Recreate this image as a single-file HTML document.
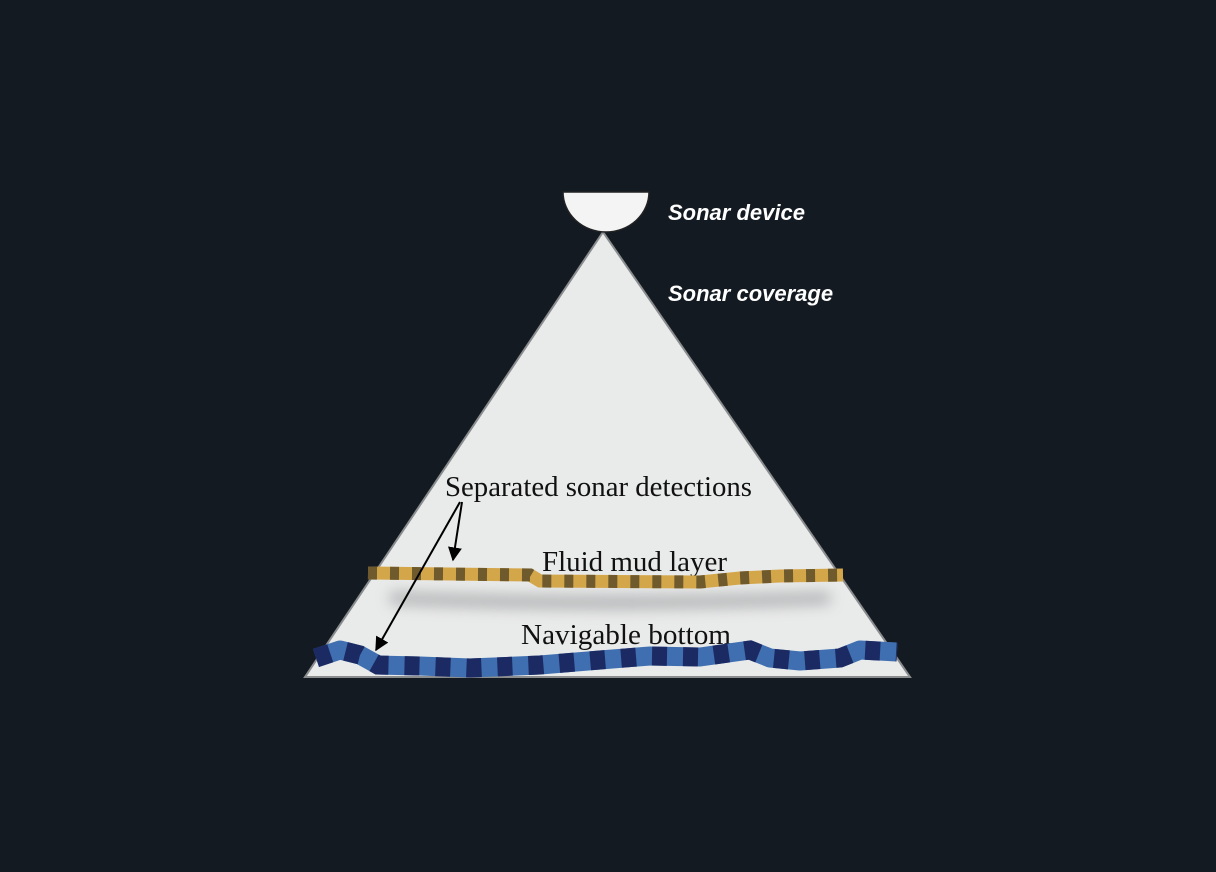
<!DOCTYPE html>
<html><head><meta charset="utf-8"><style>
html,body{margin:0;padding:0;background:#131a22;width:1216px;height:872px;overflow:hidden}
</style></head><body>
<svg width="1216" height="872" viewBox="0 0 1216 872" xmlns="http://www.w3.org/2000/svg">
<defs>
<filter id="bl" x="-20%" y="-200%" width="140%" height="500%"><feGaussianBlur stdDeviation="7"/></filter>
<marker id="ah" viewBox="0 0 10 10" refX="9" refY="5" markerWidth="7" markerHeight="7" orient="auto-start-reverse">
<path d="M0,0 L10,5 L0,10 z" fill="#000"/>
</marker>
</defs>
<rect width="1216" height="872" fill="#131a22"/>
<polygon points="603,232 305,677 910,677" fill="#e9eaea" stroke="#8a8c8e" stroke-width="2"/>
<path d="M563,192 L649,192 A43,40 0 0 1 563,192 Z" fill="#f4f4f4" stroke="#222" stroke-width="1.5"/>
<path d="M390,592 Q600,600 830,592 L830,604 Q600,614 390,604 Z" fill="#9a9c9e" opacity="0.7" filter="url(#bl)"/>
<text x="668" y="220" font-family="Liberation Sans, sans-serif" font-weight="bold" font-style="italic" font-size="22" fill="#fff">Sonar device</text>
<text x="668" y="301" font-family="Liberation Sans, sans-serif" font-weight="bold" font-style="italic" font-size="22" fill="#fff">Sonar coverage</text>
<text x="445" y="496" textLength="307" lengthAdjust="spacingAndGlyphs" font-family="Liberation Serif, serif" font-size="29" fill="#111">Separated sonar detections</text>
<text x="542" y="571" textLength="185" lengthAdjust="spacingAndGlyphs" font-family="Liberation Serif, serif" font-size="29" fill="#111">Fluid mud layer</text>
<text x="521" y="644" textLength="210" lengthAdjust="spacingAndGlyphs" font-family="Liberation Serif, serif" font-size="29" fill="#111">Navigable bottom</text>
<path d="M368,573 L530,575 L540,581 L700,582 L740,578 L780,576 L843,575" fill="none" stroke="#d4a64a" stroke-width="13"/>
<path d="M368,573 L530,575 L540,581 L700,582 L740,578 L780,576 L843,575" fill="none" stroke="#6e5a2c" stroke-width="13" stroke-dasharray="9,13"/>
<path d="M316,658 L340,650 L360,655 L378,665 L420,666 L470,668 L540,665 L600,660 L650,656 L700,657 L750,650 L770,658 L800,661 L840,658 L860,650 L897,652" fill="none" stroke="#3f6fb0" stroke-width="19" stroke-linejoin="round"/>
<path d="M316,658 L340,650 L360,655 L378,665 L420,666 L470,668 L540,665 L600,660 L650,656 L700,657 L750,650 L770,658 L800,661 L840,658 L860,650 L897,652" fill="none" stroke="#1c2a63" stroke-width="19" stroke-dasharray="15,16"/>
<line x1="462" y1="502" x2="453" y2="560" stroke="#000" stroke-width="2" marker-end="url(#ah)"/>
<line x1="460" y1="502" x2="376" y2="650" stroke="#000" stroke-width="2" marker-end="url(#ah)"/>
</svg>
</body></html>
